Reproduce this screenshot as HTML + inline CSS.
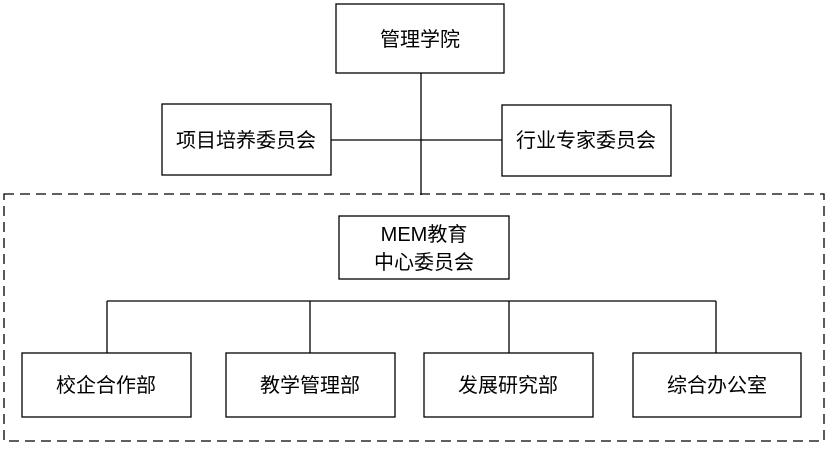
<!DOCTYPE html>
<html><head><meta charset="utf-8"><style>
body{margin:0;width:828px;height:444px;background:#fff;overflow:hidden}
</style></head><body>
<svg width="828" height="444" xmlns="http://www.w3.org/2000/svg" style="font-family:'Liberation Sans','Noto Sans CJK SC',sans-serif;font-size:20px">
<g fill="none" stroke="#000" stroke-width="1.3">
<rect x="4" y="194" width="820" height="247" stroke-dasharray="10,6"/>
<rect x="336" y="4" width="168" height="69"/>
<rect x="162" y="104" width="169" height="71"/>
<rect x="502" y="105" width="169" height="71"/>
<rect x="339" y="216" width="170" height="63"/>
<rect x="22" y="353" width="169" height="64"/>
<rect x="226" y="353" width="169" height="64"/>
<rect x="424" y="353" width="169" height="64"/>
<rect x="633" y="353" width="168" height="64"/>
<path d="M421 73V195M331 140H502M107 301H716M107 301V353M310 301V353M509 301V353M716 301V353"/>
</g>
<g text-anchor="middle" fill="#000">
<text x="420" y="46">管理学院</text>
<text x="246" y="147">项目培养委员会</text>
<text x="586" y="147">行业专家委员会</text>
<text x="424" y="241">MEM教育</text>
<text x="424" y="269">中心委员会</text>
<text x="106" y="392">校企合作部</text>
<text x="310" y="392">教学管理部</text>
<text x="508" y="392">发展研究部</text>
<text x="717" y="392">综合办公室</text>
</g>
</svg>
</body></html>
